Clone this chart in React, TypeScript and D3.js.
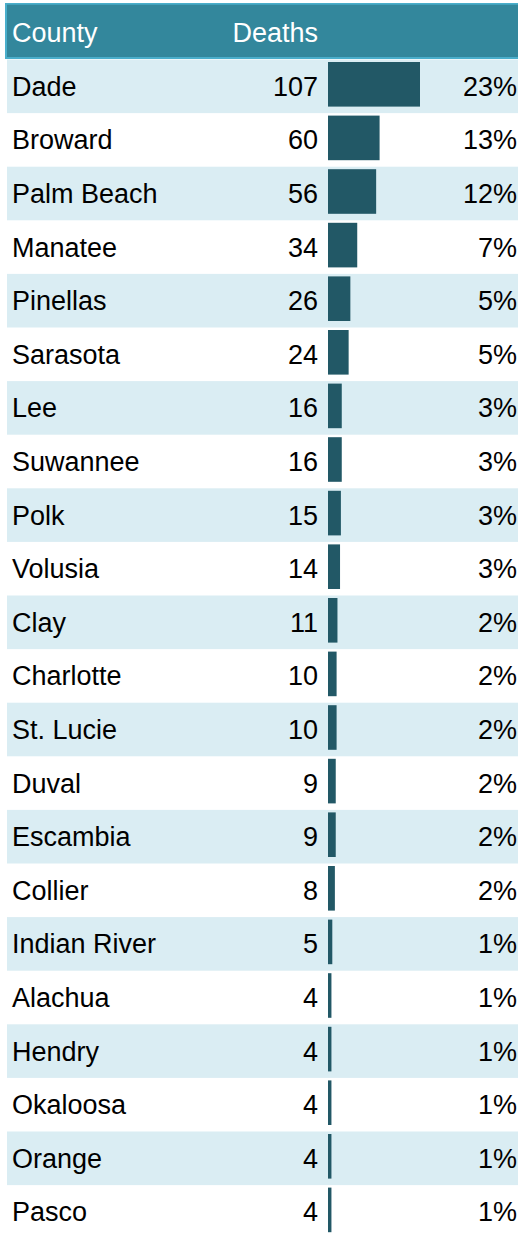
import React from "react";
import * as d3 from "d3";

const counties = ["Dade","Broward","Palm Beach","Manatee","Pinellas","Sarasota","Lee","Suwannee","Polk","Volusia","Clay","Charlotte","St. Lucie","Duval","Escambia","Collier","Indian River","Alachua","Hendry","Okaloosa","Orange","Pasco"];
const deaths = [107,60,56,34,26,24,16,16,15,14,11,10,10,9,9,8,5,4,4,4,4,4];
const percents = ["23%","13%","12%","7%","5%","5%","3%","3%","3%","3%","2%","2%","2%","2%","2%","2%","1%","1%","1%","1%","1%","1%"];
const headers = ["County", "Deaths"];

const W = 518, H = 1235;
const FONT = "'Liberation Sans', Arial, sans-serif";

export default function App() {
  const top = 59.5;
  const rowH = 53.6;
  const y = d3.scaleBand<number>().domain(d3.range(counties.length)).range([top, top + rowH * counties.length]).paddingInner(0).paddingOuter(0);
  const x = d3.scaleLinear().domain([0, 107]).range([0, 92]);
  const barX = 328;
  return (
    <svg width={W} height={H} style={{ position: "absolute", left: 0, top: 0, background: "#fff" }} fontFamily={FONT}>
      <rect x={5} y={3} width={W - 5} height={56} fill="#4aaecb" />
      <rect x={7} y={4.7} width={W - 7} height={52.3} fill="#33879c" />
      <text x={12} y={42} fontSize={27} fill="#fff">{headers[0]}</text>
      <text x={318} y={42} fontSize={27} fill="#fff" textAnchor="end">{headers[1]}</text>
      {counties.map((c, i) => {
        const y0 = y(i)!;
        const bh = y.bandwidth();
        return (
          <g key={c}>
            {i % 2 === 0 && <rect x={7} y={y0} width={W - 7} height={bh} fill="#daedf3" />}
            <text x={12} y={y0 + bh / 2 + 9.5} fontSize={27} fill="#000">{c}</text>
            <text x={318} y={y0 + bh / 2 + 9.5} fontSize={27} fill="#000" textAnchor="end">{deaths[i]}</text>
            <rect x={barX} y={y0 + 2.5} width={x(deaths[i])} height={bh - 9} fill="#225866" />
            <text x={517} y={y0 + bh / 2 + 9.5} fontSize={27} fill="#000" textAnchor="end">{percents[i]}</text>
          </g>
        );
      })}
    </svg>
  );
}
